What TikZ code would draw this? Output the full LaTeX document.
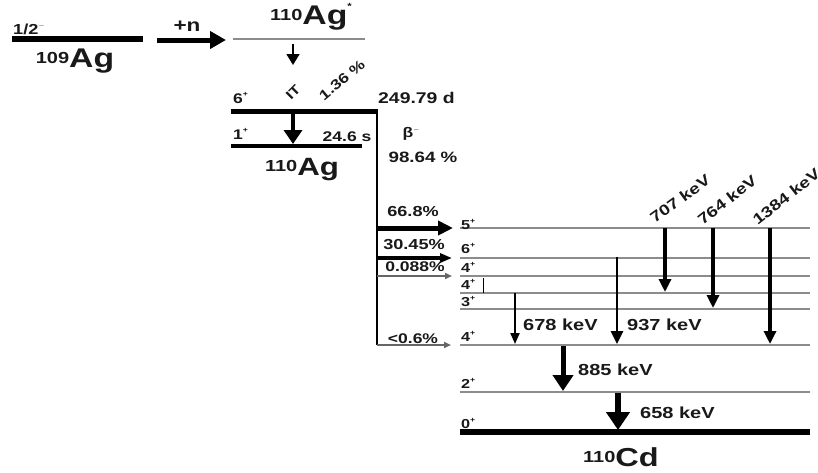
\documentclass[tikz,border=0pt]{standalone}
\usepackage{fontspec}
\setmainfont[FakeStretch=1.25]{Liberation Sans}
\usetikzlibrary{arrows.meta}
\newcommand\spinlab[2]{#1\raisebox{0.45em}{\fontsize{7}{7}\selectfont #2}}
\newcommand\fs[1]{\bfseries\fontsize{#1}{#1}\selectfont}
\newcommand\nuc[4]{\raisebox{0.42em}{\fontsize{#1}{#1}\selectfont #3}{\fontsize{#2}{#2}\selectfont #4}}
\tikzset{
  lvl/.style={draw=black!45, line width=2.4pt},
  blvl/.style={draw=black, line width=5pt},
  txt/.style={inner sep=0pt, text=black!90},
  spinl/.style={txt, font=\fs{13}, anchor=south west},
  gam/.style={draw=black, line width=3.2pt, -{Triangle[width=12pt,length=13pt]}},
  thingam/.style={draw=black, line width=2pt, -{Triangle[width=9pt,length=11pt]}},
  biggam/.style={draw=black, line width=5pt, -{Triangle[width=20pt,length=16pt]}},
}
\begin{document}
\begin{tikzpicture}[x=1pt,y=-1pt]
\useasboundingbox (0,0) rectangle (818,472);
\fill[white] (0,0) rectangle (818,472);

% ---- 109Ag ----
\coordinate (a109L) at (12,39);
\coordinate (a109R) at (143,39);
\draw[blvl, line width=6pt] (a109L) -- (a109R);
\node[txt, anchor=south west, font=\fs{14.5}] (s109) at (13,35) {\spinlab{1/2}{$-$}};
\node[txt, font=\bfseries] (n109) at (75,61) {\nuc{16}{27}{109}{Ag}};

% ---- +n ----
\coordinate (nS) at (157,40);
\coordinate (nE) at (226,40);
\draw[draw=black, line width=5pt, -{Triangle[width=17pt,length=16pt]}] (nS) -- (nE);
\node[txt, font=\fs{18}] (plusn) at (187,26) {+n};

% ---- 110Ag* ----
\coordinate (asL) at (233,39);
\coordinate (asR) at (365,39);
\draw[lvl] (asL) -- (asR);
\node[txt, font=\bfseries] (n110s) at (311,17) {\nuc{16}{27}{110}{Ag\raisebox{0.55em}{\fontsize{9}{9}\selectfont *}}};
\coordinate (capS) at (293,44);
\coordinate (capE) at (293,65);
\draw[draw=black, line width=1.6pt, -{Triangle[width=13pt,length=11pt]}] (capS) -- (capE);

% ---- 110Ag levels ----
\coordinate (m6L) at (231,111);
\coordinate (m6R) at (378,111);
\draw[blvl] (m6L) -- (m6R);
\coordinate (g1L) at (231,146);
\coordinate (g1R) at (362,146);
\draw[blvl, line width=4.5pt] (g1L) -- (g1R);
\node[txt, font=\fs{14}, anchor=west] (l6) at (233,98) {\spinlab{6}{+}};
\node[txt, font=\fs{14}, anchor=west] (l1) at (233,134) {\spinlab{1}{+}};
\node[txt, font=\fs{13}, rotate=45] (it) at (293,92) {IT};
\node[txt, font=\fs{14}, rotate=40] (pit) at (342,80) {1.36 \%};
\node[txt, font=\fs{14}] (t246) at (347,137) {24.6 s};
\node[txt, font=\fs{15.5}, anchor=west] (t249) at (378,98) {249.79 d};
\node[txt, font=\bfseries] (n110) at (302,170) {\nuc{16}{25}{110}{Ag}};
\coordinate (itS) at (293,112);
\coordinate (itE) at (293,144);
\draw[draw=black, line width=4.5pt, -{Triangle[width=18pt,length=14pt]}] (itS) -- (itE);

% ---- beta ----
\coordinate (bT) at (377,111);
\coordinate (bB) at (377,345);
\draw[draw=black, line width=1.4pt] (bT) -- (bB);
\node[txt, font=\fs{14}] (beta) at (411,134) {\spinlab{β}{$-$}};
\node[txt, font=\fs{15}] (b9864) at (423,157) {98.64 \%};

% ---- 110Cd levels ----
\foreach \nm/\yy in {c5/228, c6/258, c4a/276, c4b/293, c3/309, c4c/345, c2/392}{
  \coordinate (\nm L) at (460,\yy);
  \coordinate (\nm R) at (810,\yy);
  \draw[lvl] (\nm L) -- (\nm R);
}
\coordinate (c0L) at (460,432);
\coordinate (c0R) at (810,432);
\draw[blvl, line width=6pt] (c0L) -- (c0R);

\node[spinl] (s5) at (461,230) {\spinlab{5}{+}};
\node[spinl] (s6) at (461,254) {\spinlab{6}{+}};
\node[spinl] (s4a) at (461,273) {\spinlab{4}{+}};
\node[spinl] (s4b) at (461,290) {\spinlab{4}{+}};
\node[spinl] (s3) at (461,307) {\spinlab{3}{+}};
\node[spinl] (s4c) at (461,342) {\spinlab{4}{+}};
\node[spinl] (s2) at (461,389) {\spinlab{2}{+}};
\node[spinl] (s0) at (461,429) {\spinlab{0}{+}};
\coordinate (barT) at (483,278);
\coordinate (barB) at (483,293);
\draw[draw=black, line width=1pt] (barT) -- (barB);

% ---- beta feeding ----
\coordinate (f1S) at (377,228); \coordinate (f1E) at (453,228);
\draw[draw=black, line width=5pt, -{Triangle[width=14pt,length=15pt]}] (f1S) -- (f1E);
\coordinate (f2S) at (377,258); \coordinate (f2E) at (452,258);
\draw[draw=black, line width=3.5pt, -{Triangle[width=9pt,length=12pt]}] (f2S) -- (f2E);
\coordinate (f3S) at (377,276); \coordinate (f3E) at (452,276);
\draw[draw=black!60, line width=1.8pt, -{Triangle[width=6pt,length=7pt]}] (f3S) -- (f3E);
\coordinate (f4S) at (377,345); \coordinate (f4E) at (451,345);
\draw[draw=black!60, line width=1.8pt, -{Triangle[width=6pt,length=7pt]}] (f4S) -- (f4E);
\node[txt, font=\fs{14.5}] (p1) at (413,212) {66.8\%};
\node[txt, font=\fs{14.5}] (p2) at (414,245) {30.45\%};
\node[txt, font=\fs{14}] (p3) at (415,267) {0.088\%};
\node[txt, font=\fs{14}] (p4) at (413,339) {<0.6\%};

% ---- gamma transitions ----
\coordinate (g707S) at (665,228); \coordinate (g707E) at (665,292);
\draw[gam] (g707S) -- (g707E);
\coordinate (g764S) at (713,228); \coordinate (g764E) at (713,308);
\draw[gam] (g764S) -- (g764E);
\coordinate (g1384S) at (770,228); \coordinate (g1384E) at (770,344);
\draw[gam] (g1384S) -- (g1384E);
\coordinate (g937S) at (617,257); \coordinate (g937E) at (617,344);
\draw[gam, line width=2.8pt] (g937S) -- (g937E);
\coordinate (g678S) at (515,293); \coordinate (g678E) at (515,344);
\draw[thingam] (g678S) -- (g678E);
\coordinate (g885S) at (563,346); \coordinate (g885E) at (563,391);
\draw[biggam] (g885S) -- (g885E);
\coordinate (g658S) at (618,393); \coordinate (g658E) at (618,430);
\draw[biggam, line width=6pt, -{Triangle[width=23pt,length=18pt]}] (g658S) -- (g658E);

\node[txt, font=\fs{15}, rotate=36, anchor=south west] (e707) at (655,224) {707 keV};
\node[txt, font=\fs{15}, rotate=38, anchor=south west] (e764) at (703,226) {764 keV};
\node[txt, font=\fs{15}, rotate=38, anchor=south west] (e1384) at (758,226) {1384 keV};
\node[txt, font=\fs{16}, anchor=west] (e678) at (523,325) {678 keV};
\node[txt, font=\fs{16}, anchor=west] (e937) at (627,325) {937 keV};
\node[txt, font=\fs{16}, anchor=west] (e885) at (578,370) {885 keV};
\node[txt, font=\fs{16}, anchor=west] (e658) at (640,413) {658 keV};

\node[txt, font=\bfseries] (n110cd) at (621,457) {\nuc{16}{26}{110}{Cd}};
\end{tikzpicture}
\end{document}
